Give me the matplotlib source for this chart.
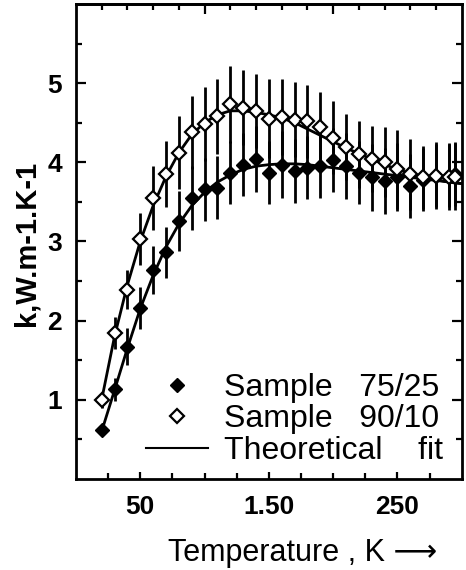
import numpy as np
from matplotlib import pyplot as plt
from matplotlib.lines import Line2D

plt.rcParams['font.family'] = ['Liberation Sans', 'DejaVu Sans']

temps = [20, 30, 40, 50, 60, 70, 80, 90, 100, 110, 120, 130, 140, 150, 160,
         170, 180, 190, 200, 210, 220, 230, 240, 250, 260, 270, 280, 290, 295]

k_75_25 = [0.62, 1.13, 1.67, 2.16, 2.64, 2.86, 3.26, 3.55, 3.66, 3.68, 3.87, 3.97, 4.04, 3.87, 3.97,
           3.89, 3.93, 3.95, 4.03, 3.95, 3.87, 3.81, 3.76, 3.81, 3.70, 3.78, 3.83, 3.83, 3.85]
err_75_25 = [0.05, 0.15, 0.23, 0.27, 0.30, 0.32, 0.38, 0.40, 0.40, 0.40, 0.40, 0.40, 0.42, 0.40, 0.42,
             0.40, 0.40, 0.40, 0.40, 0.42, 0.40, 0.42, 0.42, 0.43, 0.40, 0.40, 0.40, 0.40, 0.40]

k_90_10 = [1.00, 1.84, 2.39, 3.03, 3.55, 3.85, 4.12, 4.38, 4.48, 4.58, 4.73, 4.69, 4.65, 4.55, 4.57,
           4.54, 4.52, 4.44, 4.31, 4.19, 4.10, 4.04, 4.00, 3.91, 3.85, 3.81, 3.83, 3.82, 3.82]
err_90_10 = [0.10, 0.20, 0.25, 0.33, 0.40, 0.42, 0.46, 0.46, 0.47, 0.47, 0.49, 0.47, 0.47, 0.50, 0.48,
             0.47, 0.46, 0.45, 0.46, 0.42, 0.42, 0.42, 0.44, 0.50, 0.45, 0.40, 0.42, 0.42, 0.42]

# theoretical fit curves
fit_temps = [20, 30, 40, 50, 60, 70, 80, 90, 100, 110, 120, 130, 140, 150, 160,
             170, 180, 190, 200, 210, 220, 230, 240, 250, 260, 270, 280, 290, 300]
fit_75_25 = [0.60, 1.12, 1.65, 2.15, 2.57, 2.93, 3.22, 3.45, 3.62, 3.75, 3.84, 3.91, 3.95, 3.97, 3.98,
             3.98, 3.97, 3.95, 3.93, 3.91, 3.89, 3.87, 3.85, 3.83, 3.81, 3.79, 3.77, 3.75, 3.73]
fit_90_10 = [1.00, 1.80, 2.45, 3.00, 3.45, 3.82, 4.12, 4.35, 4.50, 4.60, 4.65, 4.65, 4.63, 4.60, 4.56,
             4.50, 4.42, 4.34, 4.26, 4.18, 4.11, 4.04, 3.97, 3.91, 3.86, 3.81, 3.78, 3.75, 3.73]

fig = plt.figure(figsize=(4.66, 5.7), dpi=100)
ax = fig.add_axes([0.163, 0.160, 0.828, 0.833])

ax.plot(fit_temps, fit_75_25, color='black', lw=2, zorder=2)
ax.plot(fit_temps, fit_90_10, color='black', lw=2, zorder=2)

ax.errorbar(temps, k_75_25, yerr=err_75_25, fmt='none', ecolor='black', elinewidth=2, capsize=0, zorder=1)
ax.errorbar(temps, k_90_10, yerr=err_90_10, fmt='none', ecolor='black', elinewidth=2, capsize=0, zorder=1)

ax.plot(temps, k_75_25, ls='none', marker='D', ms=7, mfc='black', mec='black', zorder=3)
ax.plot(temps, k_90_10, ls='none', marker='D', ms=7, mfc='white', mec='black', mew=1.6, zorder=3)

ax.set_xlim(0, 300)
ax.set_ylim(0, 6)

for s in ax.spines.values():
    s.set_linewidth(2)

ax.set_xticks([50, 150, 250])
ax.set_xticklabels(['50', '1.50', '250'])
ax.set_xticks(np.arange(25, 300, 25), minor=True)
ax.set_yticks([1, 2, 3, 4, 5])
ax.set_yticks(np.arange(0.5, 6, 0.5), minor=True)
ax.tick_params(which='both', direction='in', width=1.6, right=True)
ax.tick_params(which='major', labelsize=19)
ax.tick_params(axis='y', which='major', length=7, pad=10)
ax.tick_params(axis='x', which='major', length=5, pad=12)
ax.tick_params(which='minor', length=4)
for lab in ax.get_xticklabels() + ax.get_yticklabels():
    lab.set_fontweight('bold')

# top axis has its own ticks every 20 K
top = ax.secondary_xaxis('top')
top.set_xticks([100, 200])
top.set_xticks(np.arange(20, 300, 20), minor=True)
top.tick_params(which='both', direction='in', width=1.6, labeltop=False)
top.tick_params(which='major', length=7)
top.tick_params(which='minor', length=4)
top.spines['top'].set_linewidth(2)

fig.text(27 / 466, 1 - 243 / 570, 'k,W.m-1.K-1', rotation=90, fontsize=21, fontweight='bold',
         ha='center', va='center')
fig.text(303 / 466, 1 - 553 / 570, 'Temperature , K \u27f6', fontsize=22,
         ha='center', va='center')

handles = [Line2D([], [], ls='none', marker='D', ms=7, mfc='black', mec='black'),
           Line2D([], [], ls='none', marker='D', ms=7, mfc='white', mec='black', mew=1.6),
           Line2D([], [], color='black', lw=1.5)]
labels = ['Sample   75/25', 'Sample   90/10', 'Theoretical    fit']
ax.legend(handles, labels, loc='lower right', frameon=False, fontsize=23,
          handlelength=1.95, handletextpad=0.5, labelspacing=0.05,
          borderaxespad=0.0, bbox_to_anchor=(0.985, 0.0))

fig.savefig('out.png', dpi=100)
